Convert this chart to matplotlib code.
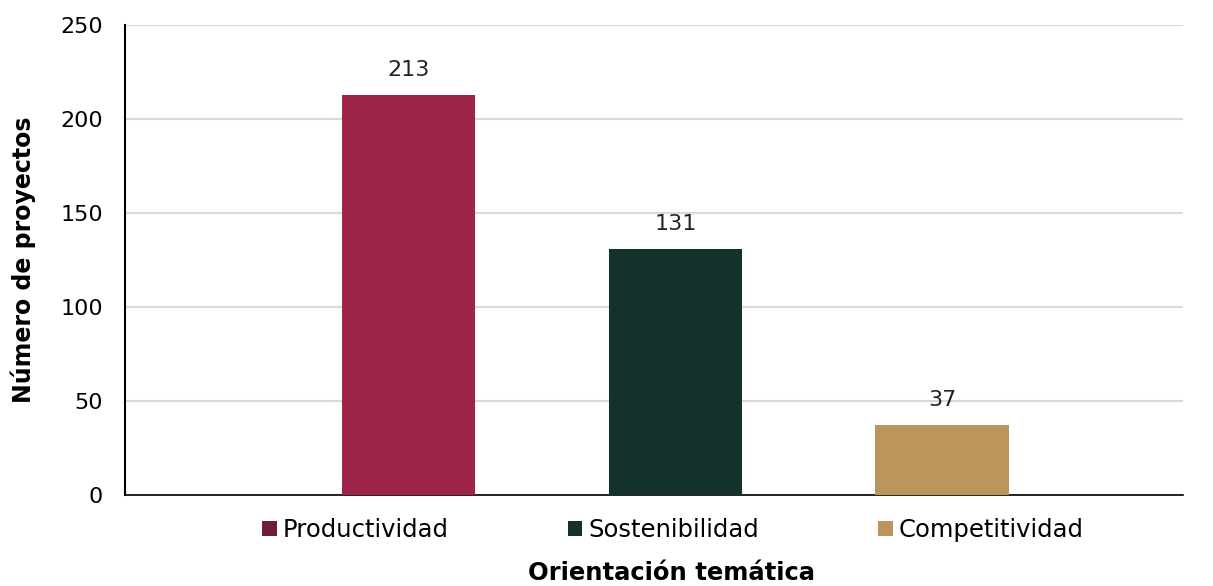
import matplotlib.pyplot as plt
from matplotlib.patches import Patch

categories = ['Productividad', 'Sostenibilidad', 'Competitividad']
values = [213, 131, 37]
bar_colors = ['#9d2449', '#13322b', '#bc955c']
legend_colors = ['#6f1d33', '#13322b', '#bc955c']
yticks = [0, 50, 100, 150, 200, 250]

plt.rcParams['font.family'] = ['DejaVu Sans']

W, H = 1213, 586
fig = plt.figure(figsize=(W / 100, H / 100), dpi=100)
ax = fig.add_axes([125 / W, 1 - 495 / H, (1183 - 125) / W, (495 - 25) / H])

x = [1, 2, 3]
ax.bar(x, values, width=0.5, color=bar_colors, zorder=3)
for xi, v in zip(x, values):
    ax.text(xi, v + 8, str(v), ha='center', va='bottom', fontsize=16, color='#222222')

ax.set_xlim(-0.064, 3.903)
ax.set_ylim(0, 250)
ax.set_yticks(yticks)
ax.set_xticks([])
ax.tick_params(axis='y', length=0, labelsize=16, pad=16)
ax.grid(axis='y', color='#d9d9d9', linewidth=1.5, zorder=0)
for s in ['top', 'right']:
    ax.spines[s].set_visible(False)
ax.spines['left'].set_linewidth(1.5)
ax.spines['bottom'].set_linewidth(1.2)

fig.text(23 / W, 1 - 260 / H, 'Número de proyectos', rotation=90, ha='center',
         va='center', fontsize=17, fontweight='bold')
fig.text(671 / W, 1 - 573 / H, 'Orientación temática', ha='center', va='center',
         fontsize=17.5, fontweight='bold')

handles = [Patch(facecolor=c) for c in legend_colors]
fig.legend(handles, categories, loc='center', bbox_to_anchor=(673 / W, 1 - 530 / H),
           ncol=3, frameon=False, fontsize=17.5, handlelength=0.6, handleheight=0.6,
           handletextpad=0.25, columnspacing=4.9)

fig.savefig('out.png', dpi=100)
